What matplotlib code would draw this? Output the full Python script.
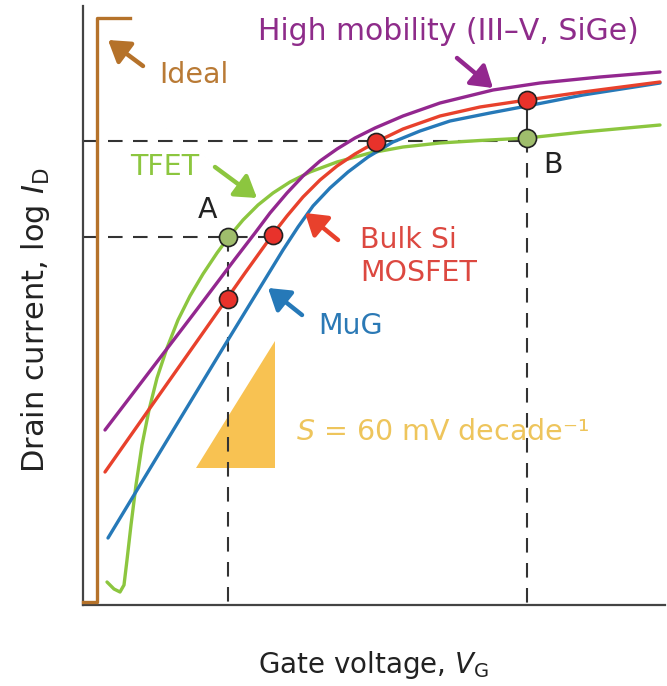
import numpy as np
import matplotlib.pyplot as plt

# schematic I-V curves in pixel units (x right, y down)
purple_x = [105, 150, 195, 235, 255, 270, 287, 303, 320, 337, 355, 375, 403, 440, 493, 540, 600, 660]
purple_y = [430, 371, 312, 259, 233, 213, 193, 176, 161, 149, 138, 128, 116, 103, 90, 83, 77, 72]

red_x = [105, 150, 200, 245, 273, 287, 303, 320, 337, 355, 376, 403, 440, 480, 527, 583, 660]
red_y = [472, 408, 337, 273, 234, 216, 197, 180, 166, 154, 142, 129, 116, 107, 100, 92, 82]

blue_x = [108, 160, 220, 283, 298, 313, 330, 348, 368, 393, 420, 450, 490, 527, 583, 660]
blue_y = [538, 452, 353, 250, 227, 206, 188, 172, 157, 142, 131, 121, 113, 106, 95, 83]

green_x = [107, 114, 120, 124, 127, 131, 136, 142, 149, 157, 167, 178, 190, 203, 217, 228, 243,
           258, 273, 290, 310, 337, 370, 403, 440, 480, 527, 583, 660]
green_y = [582, 589, 592, 585, 560, 525, 485, 445, 410, 378, 348, 320, 296, 274, 253, 238, 220,
           205, 193, 182, 172, 162, 153, 147, 143, 140.5, 138, 132, 125]

ideal_x = [83, 97, 97, 130]
ideal_y = [602, 602, 18, 18]

# operating points
red_pts_x = [273, 228, 376, 527]
red_pts_y = [235, 299, 142, 100]
green_pts_x = [228, 527]
green_pts_y = [237, 138]

# 60 mV/decade slope triangle
tri_x = [196, 275, 275]
tri_y = [468, 468, 341]

PURPLE = '#93278f'
RED = '#e8412c'
BLUE = '#2679b8'
GREEN = '#8cc63f'
BROWN = '#b5722a'
YELLOW = '#f8c252'
DARK = '#333333'

fig = plt.figure(figsize=(6.67, 6.86), dpi=100)
ax = fig.add_axes([0, 0, 1, 1])
ax.set_xlim(0, 667)
ax.set_ylim(686, 0)
ax.set_xticks([])
ax.set_yticks([])
ax.patch.set_alpha(0)
for s in ['top', 'right']:
    ax.spines[s].set_visible(False)
ax.spines['left'].set_position(('data', 83))
ax.spines['left'].set_bounds(605, 6)
ax.spines['bottom'].set_position(('data', 605))
ax.spines['bottom'].set_bounds(83, 665)
for s in ['left', 'bottom']:
    ax.spines[s].set_color('#444444')
    ax.spines[s].set_linewidth(1.6)

# slope triangle
ax.fill(tri_x, tri_y, color=YELLOW, lw=0, zorder=1)

# guide lines
dash = dict(color=DARK, lw=1.5, dashes=(7, 5), zorder=2)
ax.plot([83, 273], [237, 237], **dash)
ax.plot([228, 228], [237, 605], **dash)
ax.plot([83, 527], [141, 141], **dash)
ax.plot([527, 527], [138, 605], **dash)
ax.plot([527, 527], [100, 138], color=DARK, lw=1.5, zorder=2)

# curves
lw = 2.4
ax.plot(ideal_x, ideal_y, color=BROWN, lw=lw, zorder=3)
ax.plot(green_x, green_y, color=GREEN, lw=lw, zorder=3, solid_capstyle='round', solid_joinstyle='round')
ax.plot(blue_x, blue_y, color=BLUE, lw=lw, zorder=4, solid_capstyle='round', solid_joinstyle='round')
ax.plot(red_x, red_y, color=RED, lw=lw, zorder=5, solid_capstyle='round', solid_joinstyle='round')
ax.plot(purple_x, purple_y, color=PURPLE, lw=lw, zorder=6, solid_capstyle='round', solid_joinstyle='round')

ax.plot(red_pts_x, red_pts_y, 'o', ms=13, mfc='#e8322b', mec='#222222', mew=1.2, zorder=8)
ax.plot(green_pts_x, green_pts_y, 'o', ms=13, mfc='#9fbd6c', mec='#222222', mew=1.2, zorder=8)


def arrow(tail, tip, color):
    ax.annotate('', xy=tip, xytext=tail, zorder=9,
                arrowprops=dict(arrowstyle='-|>,head_length=0.7,head_width=0.45',
                                color=color, lw=3.2, mutation_scale=18,
                                shrinkA=0, shrinkB=0))


arrow((457, 58), (493, 88), PURPLE)
arrow((143, 66), (108, 40), BROWN)
arrow((215, 167), (257, 198), GREEN)
arrow((338, 240), (305, 213), RED)
arrow((302, 315), (268, 288), BLUE)

fs = 20.5
ax.text(258, 32, 'High mobility (III–V, SiGe)', color='#8e2c8a', fontsize=21.5, va='center')
ax.text(159, 75, 'Ideal', color='#b97a35', fontsize=fs, va='center')
ax.text(130, 167, 'TFET', color='#8cc63f', fontsize=fs, va='center')
ax.text(360, 240, 'Bulk Si', color='#dc4840', fontsize=fs, va='center')
ax.text(360, 273, 'MOSFET', color='#dc4840', fontsize=fs, va='center')
ax.text(318, 326, 'MuG', color='#2b79b5', fontsize=fs, va='center')
ax.text(208, 210, 'A', color='#222222', fontsize=fs, ha='center', va='center')
ax.text(553, 165, 'B', color='#222222', fontsize=fs, ha='center', va='center')
ax.text(296, 432, '$\\mathit{S}$ = 60 mV decade⁻¹', color='#eec55c', fontsize=fs, va='center')

ax.text(374, 665, r'Gate voltage, $\mathit{V}_{\mathrm{G}}$', color='#222222', fontsize=20,
        ha='center', va='center')
ax.text(36, 320, r'Drain current, log $\mathit{I}_{\mathrm{D}}$', color='#222222', fontsize=22,
        ha='center', va='center', rotation=90)

fig.savefig('out.png', dpi=100)
